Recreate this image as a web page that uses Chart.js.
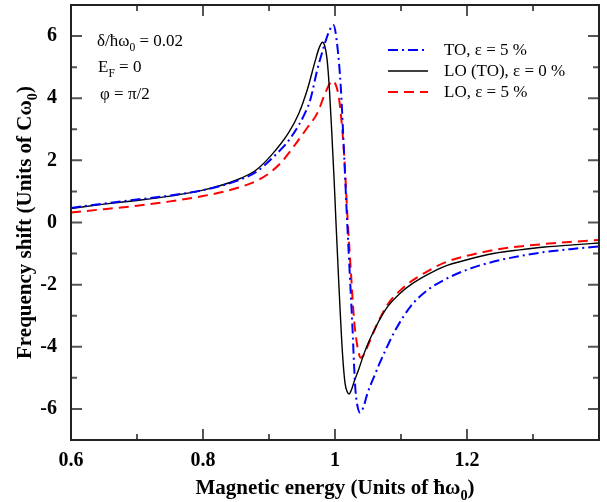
<!DOCTYPE html>
<html><head><meta charset="utf-8">
<script src="https://cdn.jsdelivr.net/npm/chart.js@4.4.1/dist/chart.umd.min.js"></script>
<style>html,body{margin:0;padding:0;background:#fff}#c{display:block}</style>
</head><body>
<canvas id="c" width="607" height="502"></canvas>
<script>
// ---- data ----
const energyTO5 = [0.60,0.65,0.70,0.75,0.80,0.85,0.88,0.9072,0.9326,0.958,0.963,0.9732,0.9833,0.991,0.9976,1.0036,1.0087,1.0137,1.0178,1.022,1.0265,1.0289,1.031,1.0345,1.038,1.043,1.0493,1.0594,1.067,1.075,1.09,1.1152,1.14,1.166,1.20,1.242,1.28,1.318,1.36,1.40];
const shiftTO5  = [0.47,0.61,0.74,0.87,1.04,1.33,1.62,2.12,2.72,3.68,3.98,4.92,5.67,6.15,6.36,5.67,4.38,2.24,0.30,-1.5,-3.4,-4.6,-5.4,-5.95,-6.12,-5.95,-5.49,-4.95,-4.56,-4.18,-3.52,-2.68,-2.18,-1.84,-1.52,-1.25,-1.08,-0.95,-0.85,-0.77];

const energyLO0 = [0.60,0.65,0.70,0.75,0.80,0.85,0.88,0.905,0.93,0.945,0.958,0.97,0.976,0.981,0.9845,0.988,0.9915,0.995,0.9985,1.0015,1.006,1.0113,1.0152,1.0185,1.0213,1.025,1.029,1.036,1.044,1.052,1.0645,1.08,1.10,1.115,1.14,1.166,1.20,1.242,1.28,1.318,1.36,1.40];
const shiftLO0  = [0.45,0.59,0.71,0.85,1.04,1.36,1.68,2.2,2.9,3.5,4.27,5.2,5.62,5.80,5.68,5.25,4.3,2.95,1.45,0.0,-2.06,-4.2,-5.17,-5.45,-5.52,-5.38,-5.12,-4.72,-4.22,-3.8,-3.25,-2.70,-2.25,-2.0,-1.68,-1.41,-1.2,-0.99,-0.88,-0.79,-0.72,-0.66];

const energyLO5 = [0.60,0.65,0.70,0.75,0.80,0.85,0.88,0.90,0.9174,0.9376,0.958,0.9732,0.9833,0.991,0.996,1.0036,1.0076,1.0137,1.0189,1.0239,1.0289,1.034,1.039,1.044,1.0493,1.0645,1.08,1.10,1.115,1.14,1.166,1.20,1.242,1.28,1.318,1.36,1.40];
const shiftLO5  = [0.32,0.43,0.54,0.68,0.85,1.1,1.33,1.58,1.91,2.45,3.05,3.52,4.06,4.43,4.56,4.27,3.74,2.24,0.19,-1.52,-3.13,-3.99,-4.35,-4.25,-3.99,-3.24,-2.63,-2.16,-1.90,-1.57,-1.29,-1.07,-0.88,-0.77,-0.69,-0.62,-0.56];

const seriesLabels = ['TO, \u03b5 = 5 %', 'LO (TO), \u03b5 = 0 %', 'LO, \u03b5 = 5 %'];
const xMajorTicks = [0.6, 0.8, 1.0, 1.2];
const xMinorTicks = [0.7, 0.9, 1.1, 1.3];
const yMajorTicks = [-6, -4, -2, 0, 2, 4, 6];
const yMinorTicks = [-5, -3, -1, 1, 3, 5];

// ---- helpers ----
const SERIF = '"Liberation Serif", "Times New Roman", Times, serif';
function pts(xs, ys) { return xs.map((x, i) => ({x: x, y: ys[i]})); }
function richText(ctx, parts, x, y, size, weight, align) {
  let total = 0;
  const items = parts.map(p => {
    const s = p.sub ? size * 0.68 : size;
    ctx.font = weight + ' ' + s + 'px ' + SERIF;
    const w = ctx.measureText(p.t).width;
    total += w;
    return {p: p, s: s, w: w};
  });
  let cx = align === 'center' ? x - total / 2 : x;
  ctx.textAlign = 'left';
  ctx.textBaseline = 'alphabetic';
  for (const it of items) {
    ctx.font = weight + ' ' + it.s + 'px ' + SERIF;
    ctx.fillText(it.p.t, cx, y + (it.p.sub ? size * 0.28 : 0));
    cx += it.w;
  }
}

const styles = [
  {color: '#0000ff', width: 2, dash: [10, 4, 2, 4]},
  {color: '#000000', width: 1.4, dash: []},
  {color: '#ff0000', width: 2, dash: [10, 6]}
];

const decor = {
  id: 'decor',
  afterDatasetsDraw(chart) {
    const ctx = chart.ctx, a = chart.chartArea;
    const xs = chart.scales.x, ys = chart.scales.y;
    ctx.save();
    ctx.strokeStyle = '#555';
    ctx.lineWidth = 2;
    ctx.beginPath();
    const xt = (v, len) => { const p = xs.getPixelForValue(v);
      ctx.moveTo(p, a.bottom); ctx.lineTo(p, a.bottom - len);
      ctx.moveTo(p, a.top); ctx.lineTo(p, a.top + len); };
    const yt = (v, len) => { const p = ys.getPixelForValue(v);
      ctx.moveTo(a.left, p); ctx.lineTo(a.left + len, p);
      ctx.moveTo(a.right, p); ctx.lineTo(a.right - len, p); };
    xMajorTicks.forEach(v => xt(v, 11));
    xMinorTicks.forEach(v => xt(v, 6));
    yMajorTicks.forEach(v => yt(v, 11));
    yMinorTicks.forEach(v => yt(v, 6));
    ctx.stroke();
    ctx.strokeStyle = '#222';
    ctx.lineWidth = 2;
    ctx.strokeRect(a.left, a.top, a.right - a.left, a.bottom - a.top);
    ctx.restore();
  },
  afterDraw(chart) {
    const ctx = chart.ctx, a = chart.chartArea;
    ctx.save();
    ctx.fillStyle = '#000';
    richText(ctx, [{t: 'Magnetic energy (Units of \u0127\u03c9'}, {t: '0', sub: true}, {t: ')'}],
      (a.left + a.right) / 2, 494, 21, 'bold', 'center');
    ctx.save();
    ctx.translate(31, (a.top + a.bottom) / 2);
    ctx.rotate(-Math.PI / 2);
    richText(ctx, [{t: 'Frequency shift (Units of C\u03c9'}, {t: '0', sub: true}, {t: ')'}],
      0, 0, 21, 'bold', 'center');
    ctx.restore();
    richText(ctx, [{t: '\u03b4/\u0127\u03c9'}, {t: '0', sub: true}, {t: ' = 0.02'}], 97, 46, 17, 'normal', 'left');
    richText(ctx, [{t: 'E'}, {t: 'F', sub: true}, {t: ' = 0'}], 98, 72, 17, 'normal', 'left');
    richText(ctx, [{t: '\u03c6 = \u03c0/2'}], 100, 99, 17, 'normal', 'left');
    const rows = [50, 71, 92];
    seriesLabels.forEach((lab, i) => {
      const st = styles[i];
      ctx.save();
      ctx.strokeStyle = st.color;
      ctx.lineWidth = st.width;
      ctx.setLineDash(st.dash);
      ctx.beginPath();
      ctx.moveTo(388, rows[i]);
      ctx.lineTo(428, rows[i]);
      ctx.stroke();
      ctx.restore();
      ctx.font = '17px ' + SERIF;
      ctx.textAlign = 'left';
      ctx.textBaseline = 'middle';
      ctx.fillText(lab, 444, rows[i] + 1);
    });
    ctx.restore();
  }
};

const datasets = [
  {label: seriesLabels[0], data: pts(energyTO5, shiftTO5)},
  {label: seriesLabels[1], data: pts(energyLO0, shiftLO0)},
  {label: seriesLabels[2], data: pts(energyLO5, shiftLO5)}
].map((d, i) => Object.assign(d, {
  borderColor: styles[i].color,
  borderWidth: styles[i].width,
  borderDash: styles[i].dash,
  pointRadius: 0,
  fill: false,
  cubicInterpolationMode: 'monotone'
}));

new Chart(document.getElementById('c'), {
  type: 'line',
  data: {datasets: datasets},
  options: {
    responsive: false,
    animation: false,
    devicePixelRatio: 1,
    layout: {padding: {left: 0, top: 5, right: 8, bottom: 0}},
    plugins: {legend: {display: false}, tooltip: {enabled: false}},
    scales: {
      x: {
        type: 'linear', min: 0.6, max: 1.4,
        grid: {display: false, drawTicks: false},
        border: {display: false},
        afterBuildTicks: s => { s.ticks = xMajorTicks.map(v => ({value: v})); },
        afterFit: s => { s.height = 62; s.paddingLeft = 0; s.paddingRight = 0; },
        ticks: {
          padding: 9, color: '#000',
          font: {family: SERIF, size: 20, weight: 'bold'},
          callback: v => (Math.abs(v - 1) < 1e-9 ? '1' : String(v))
        }
      },
      y: {
        type: 'linear', min: -7, max: 7,
        grid: {display: false, drawTicks: false},
        border: {display: false},
        afterBuildTicks: s => { s.ticks = yMajorTicks.map(v => ({value: v})); },
        afterFit: s => { s.width = 71; s.paddingTop = 0; s.paddingBottom = 0; },
        ticks: {
          padding: 14, color: '#000',
          font: {family: SERIF, size: 20, weight: 'bold'},
          callback: v => String(v)
        }
      }
    }
  },
  plugins: [decor]
});
</script>
</body></html>
